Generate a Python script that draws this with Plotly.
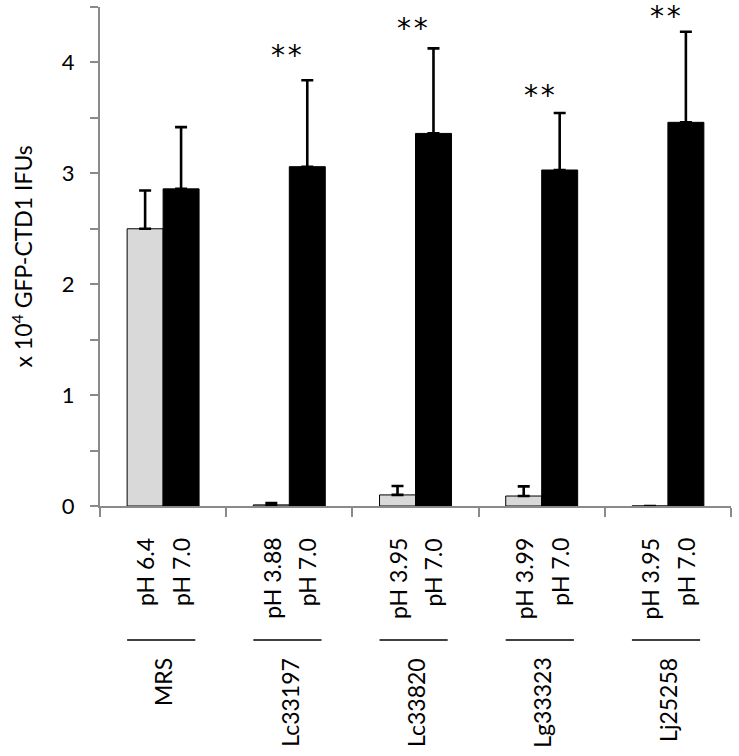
import plotly.graph_objects as go

# ---- data ----
groups = ["MRS", "Lc33197", "Lc33820", "Lg33323", "Lj25258"]
acid_ph_labels = ["pH 6.4", "pH 3.88", "pH 3.95", "pH 3.99", "pH 3.95"]
neutral_ph_labels = ["pH 7.0", "pH 7.0", "pH 7.0", "pH 7.0", "pH 7.0"]
acid_values = [2.50, 0.01, 0.10, 0.09, 0.0]
acid_errors = [0.345, 0.017, 0.08, 0.087, None]
neutral_values = [2.86, 3.06, 3.36, 3.03, 3.46]
neutral_errors = [0.557, 0.78, 0.767, 0.514, 0.817]
significance = ["", "*\u200a*", "*\u200a*", "*\u200a*", "*\u200a*"]
y_tick_vals = [0, 1, 2, 3, 4]
y_title = "x 10<sup>4</sup> GFP-CTD1 IFUs"

# ---- layout constants ----
W, H = 739, 756
L, R, T, B = 100, 8, 7, 250
plot_h = H - T - B
FONT = "Lato"
AXIS_GRAY = "#8a8a8a"
BAR_W = 0.285
star_y = [None, 4.06, 4.31, 3.70, 4.41]   # annotation positions (data units)


def py(pix):
    """pixel row -> paper y"""
    return (H - B - pix) / plot_h


x_idx = list(range(len(groups)))

fig = go.Figure()
fig.add_trace(go.Bar(
    x=x_idx, y=acid_values, name="acid",
    marker=dict(color="#d9d9d9", line=dict(color="black", width=1)),
    error_y=dict(type="data", symmetric=False, array=acid_errors,
                 arrayminus=[0] * len(groups), color="black",
                 thickness=2.6, width=6),
))
fig.add_trace(go.Bar(
    x=x_idx, y=neutral_values, name="neutral",
    marker=dict(color="black", line=dict(color="black", width=1)),
    error_y=dict(type="data", symmetric=False, array=neutral_errors,
                 arrayminus=[0] * len(groups), color="black",
                 thickness=2.6, width=6),
))

annotations = []
shapes = []
for i, g in enumerate(groups):
    # pH labels
    for lab, off in ((acid_ph_labels[i], -BAR_W / 2), (neutral_ph_labels[i], BAR_W / 2)):
        annotations.append(dict(
            x=i + off, xref="x", y=py(536), yref="paper",
            text=lab, textangle=-90, showarrow=False,
            xanchor="center", yanchor="top",
            font=dict(family=FONT, size=23, color="black")))
    # group line
    shapes.append(dict(type="line", xref="x", yref="paper",
                       x0=i - 0.285, x1=i + 0.255, y0=py(640), y1=py(640),
                       line=dict(color="black", width=1.5)))
    # group name
    annotations.append(dict(
        x=i, xref="x", y=py(656), yref="paper",
        text=g, textangle=-90, showarrow=False,
        xanchor="center", yanchor="top",
        font=dict(family=FONT, size=23, color="black")))
    # significance stars
    if significance[i]:
        annotations.append(dict(
            x=i - 0.02, xref="x", y=star_y[i], yref="y",
            text=significance[i], showarrow=False,
            xanchor="center", yanchor="middle",
            font=dict(family="DejaVu Sans", size=28, color="black")))

annotations.append(dict(
    x=(22 - L) / (W - L - R), xref="paper", y=0.5, yref="paper",
    text=y_title, textangle=-90, showarrow=False,
    xanchor="center", yanchor="middle",
    font=dict(family=FONT, size=23, color="black")))

fig.update_layout(
    width=W, height=H,
    margin=dict(l=L, r=R, t=T, b=B),
    paper_bgcolor="white", plot_bgcolor="white",
    barmode="group", bargap=0.43, bargroupgap=0,
    showlegend=False,
    font=dict(family=FONT, color="black"),
    annotations=annotations, shapes=shapes,
    xaxis=dict(
        range=[-0.5, len(groups) - 0.5],
        tickvals=[i - 0.5 for i in range(len(groups) + 1)],
        showticklabels=False,
        ticks="outside", ticklen=9, tickwidth=2, tickcolor=AXIS_GRAY,
        showline=True, linecolor=AXIS_GRAY, linewidth=2,
        showgrid=False, zeroline=False, fixedrange=True,
    ),
    yaxis=dict(
        range=[0, 4.5],
        tickvals=y_tick_vals, ticktext=[str(v) for v in y_tick_vals],
        ticks="outside", ticklen=8, tickwidth=2, tickcolor=AXIS_GRAY,
        minor=dict(tickvals=[0.5, 1.5, 2.5, 3.5, 4.5], ticks="outside",
                   ticklen=8, tickwidth=2, tickcolor=AXIS_GRAY),
        ticklabelstandoff=11,
        tickfont=dict(family=FONT, size=22, color="black"),
        showline=True, linecolor=AXIS_GRAY, linewidth=2,
        showgrid=False, zeroline=False, fixedrange=True,
    ),
)

fig.write_html("out.html",
               config={"displayModeBar": False},
               post_script="document.body.style.margin='0';document.body.style.padding='0';")
